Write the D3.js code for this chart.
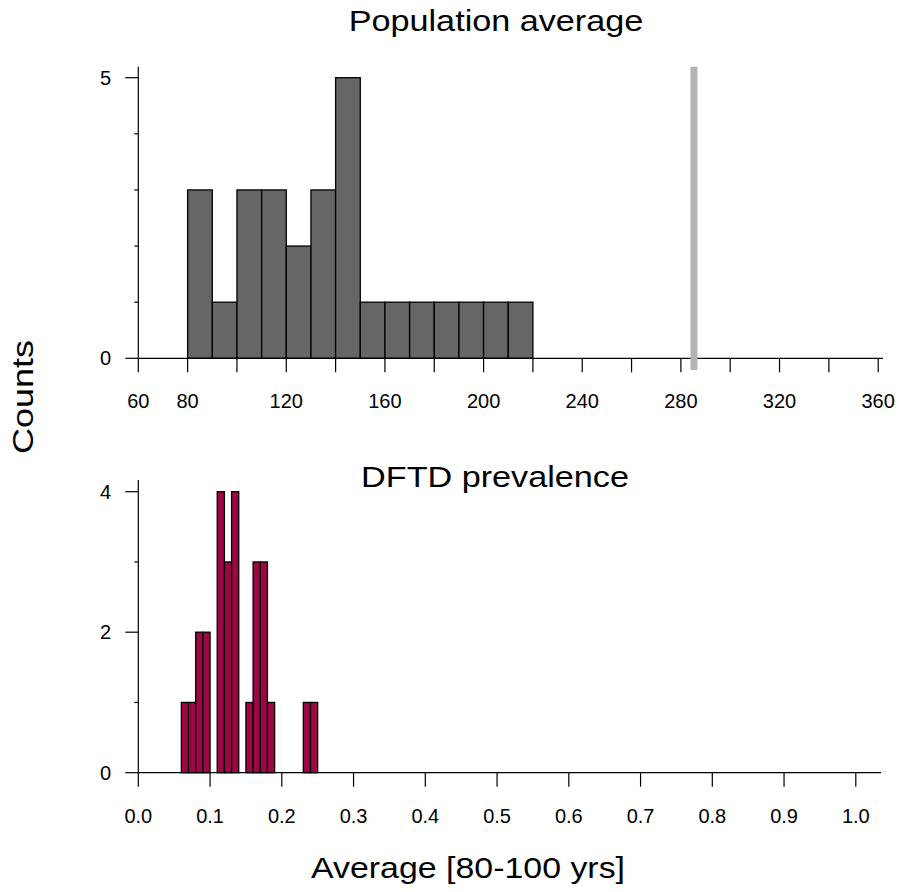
<!DOCTYPE html>
<html>
<head>
<meta charset="utf-8">
<script src="https://cdn.jsdelivr.net/npm/d3@7"></script>
<style>
  body { margin: 0; background: #fff; }
  svg text { font-family: "Liberation Sans", Arial, sans-serif; fill: #000; }
</style>
</head>
<body>
<div id="chart"></div>
<script>
// top panel: population average histogram (bin width 10)
var popBins = [80, 90, 100, 110, 120, 130, 140, 150, 160, 170, 180, 190, 200, 210];
var popCounts = [3, 1, 3, 3, 2, 3, 5, 1, 1, 1, 1, 1, 1, 1];
var popBinWidth = 10;
var popObserved = 285.3;
var popTicks = d3.range(60, 361, 20);
var popLabels = [60, 80, 120, 160, 200, 240, 280, 320, 360];
var popYTicks = [0, 1, 2, 3, 4, 5];
var popYLabels = [0, 5];

// bottom panel: DFTD prevalence histogram (bin width 0.01)
var prevBins = [0.06, 0.07, 0.08, 0.09, 0.11, 0.12, 0.13, 0.15, 0.16, 0.17, 0.18, 0.23, 0.24];
var prevCounts = [1, 1, 2, 2, 4, 3, 4, 1, 3, 3, 1, 1, 1];
var prevBinWidth = 0.01;
var prevTicks = d3.range(0, 1.01, 0.1);
var prevYTicks = [0, 1, 2, 3, 4];
var prevYLabels = [0, 2, 4];

var W = 899, H = 892;
var svg = d3.select("#chart").append("svg")
  .attr("width", W)
  .attr("height", H);

// text in the original is a bit wider than Liberation Sans, stretch it along the baseline
function wideText(x, y, rot, sx, size, str) {
  return svg.append("text")
    .attr("transform", "translate(" + x + "," + y + ") rotate(" + rot + ") scale(" + sx + ",1)")
    .attr("text-anchor", "middle")
    .style("font-size", size + "px")
    .text(str);
}

function drawPanel(cfg) {
  var x = d3.scaleLinear().domain(cfg.xdom).range([138.3, cfg.xr]);
  var y = d3.scaleLinear().domain([0, cfg.ymax]).range([cfg.y0, cfg.ytop]);
  var g = svg.append("g");

  // bars
  g.selectAll("rect.bar")
    .data(cfg.bins.map(function(b, i){ return {x0: b, n: cfg.counts[i]}; }))
    .enter()
    .append("rect")
    .attr("class", "bar")
    .attr("x", function(d){ return x(d.x0); })
    .attr("y", function(d){ return y(d.n); })
    .attr("width", function(d){ return x(d.x0 + cfg.bw) - x(d.x0); })
    .attr("height", function(d){ return y(0) - y(d.n); })
    .style("fill", cfg.fill)
    .style("stroke", "#000")
    .style("stroke-width", "1.3px");

  // x axis line + ticks
  g.append("line")
    .attr("x1", x(cfg.xdom[0])).attr("x2", cfg.xend)
    .attr("y1", y(0)).attr("y2", y(0))
    .style("stroke", "#000").style("stroke-width", "1.2px");
  g.selectAll("line.xt")
    .data(cfg.xticks).enter()
    .append("line")
    .attr("x1", function(d){ return x(d); }).attr("x2", function(d){ return x(d); })
    .attr("y1", y(0)).attr("y2", y(0) + 14)
    .style("stroke", "#000").style("stroke-width", "1.2px");
  g.selectAll("text.xl")
    .data(cfg.xlabels).enter()
    .append("text")
    .attr("x", function(d){ return x(d); })
    .attr("y", y(0) + 50)
    .attr("text-anchor", "middle")
    .style("font-size", "20px")
    .text(cfg.xfmt);

  // y axis line + ticks
  g.append("line")
    .attr("x1", x(cfg.xdom[0])).attr("x2", x(cfg.xdom[0]))
    .attr("y1", y(0)).attr("y2", cfg.yaxTop)
    .style("stroke", "#000").style("stroke-width", "1.2px");
  g.selectAll("line.yt")
    .data(cfg.yticks).enter()
    .append("line")
    .attr("x1", function(d){ return x(cfg.xdom[0]) - (cfg.ylabels.indexOf(d) >= 0 ? 13 : 4); })
    .attr("x2", x(cfg.xdom[0]))
    .attr("y1", function(d){ return y(d); }).attr("y2", function(d){ return y(d); })
    .style("stroke", "#000").style("stroke-width", "1.2px");
  g.selectAll("text.yl")
    .data(cfg.ylabels).enter()
    .append("text")
    .attr("x", 111)
    .attr("y", function(d){ return y(d) + 7; })
    .attr("text-anchor", "end")
    .style("font-size", "20px")
    .text(function(d){ return d; });

  wideText(cfg.tx, cfg.ty, 0, 1.14, 30, cfg.title);

  return x;
}

var xTop = drawPanel({
  xdom: [60, 360], xr: 878.2, xend: 883,
  ymax: 5, y0: 358.3, ytop: 77.7, yaxTop: 66.7,
  bins: popBins, counts: popCounts, bw: popBinWidth, fill: "#666666",
  xticks: popTicks, xlabels: popLabels, xfmt: function(d){ return d; },
  yticks: popYTicks, ylabels: popYLabels,
  title: "Population average", tx: 496, ty: 31
});

// observed value marker
svg.append("line")
  .attr("x1", xTop(popObserved)).attr("x2", xTop(popObserved))
  .attr("y1", 66.7).attr("y2", 370)
  .style("stroke", "#b3b3b3")
  .style("stroke-width", "7px");

drawPanel({
  xdom: [0, 1], xr: 855.8, xend: 881,
  ymax: 4, y0: 772.7, ytop: 491.7, yaxTop: 480,
  bins: prevBins, counts: prevCounts, bw: prevBinWidth, fill: "#9b0844",
  xticks: prevTicks, xlabels: prevTicks, xfmt: d3.format(".1f"),
  yticks: prevYTicks, ylabels: prevYLabels,
  title: "DFTD prevalence", tx: 495, ty: 487
});

// shared axis titles
wideText(468, 878, 0, 1.13, 30, "Average [80-100 yrs]");
wideText(33, 397, -90, 1.2, 30, "Counts");
</script>
</body>
</html>
